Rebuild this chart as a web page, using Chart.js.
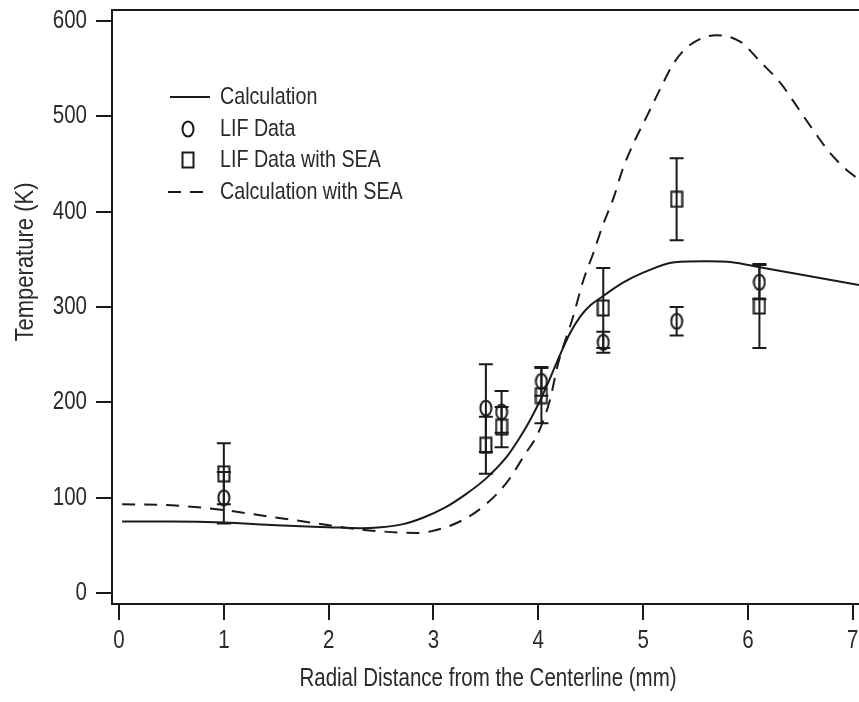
<!DOCTYPE html>
<html>
<head>
<meta charset="utf-8">
<script src="https://cdn.jsdelivr.net/npm/chart.js@4.4.1/dist/chart.umd.min.js"></script>
<style>
html, body { margin: 0; padding: 0; background: #fff; }
</style>
</head>
<body>
<canvas id="chart" width="859" height="702"></canvas>
<script>
// --- data ---
const calcX = [0.03, 0.5, 1.0, 1.5, 2.0, 2.3, 2.5, 2.7, 2.9, 3.1, 3.3, 3.5, 3.7, 3.8, 3.9, 4.0, 4.1, 4.2, 4.3, 4.4, 4.5, 4.6, 4.8, 5.0, 5.3, 5.6, 5.85, 6.1, 6.5, 7.06];
const calcT = [75, 75, 74, 71, 69, 68, 69, 72, 79, 89, 103, 120, 143, 159, 177, 198, 222, 248, 272, 290, 302, 310, 325, 336, 347, 348, 347, 342, 334, 323];

const seaX = [0.03, 0.5, 1.0, 1.44, 1.89, 2.2, 2.46, 2.84, 3.09, 3.32, 3.51, 3.7, 3.87, 4.0, 4.11, 4.19, 4.33, 4.43, 4.53, 4.61, 4.72, 4.81, 4.91, 5.04, 5.16, 5.3, 5.45, 5.7, 5.93, 6.12, 6.31, 6.47, 6.62, 6.78, 6.96, 7.06];
const seaT = [93, 92, 87, 80, 73, 68, 65, 63, 68, 79, 94, 116, 145, 168, 202, 241, 289, 328, 358, 384, 415, 446, 472, 501, 528, 557, 575, 585, 578, 557, 535, 510, 486, 462, 442, 434];

const pointX = [1.0, 3.5, 3.65, 4.03, 4.62, 5.32, 6.11];
const lifT = [100, 194, 190, 222, 263, 285, 326];
const lifErr = [27, 46, 22, 15, 11, 15, 18];
const lifSeaT = [125, 155, 174, 207, 299, 413, 301];
const lifSeaErr = [32, 30, 21, 29, 42, 43, 44];

const xTicks = [0, 1, 2, 3, 4, 5, 6, 7];
const yTicks = [0, 100, 200, 300, 400, 500, 600];

const legendLabels = ['Calculation', 'LIF Data', 'LIF Data with SEA', 'Calculation with SEA'];
const xTitle = 'Radial Distance from the Centerline (mm)';
const yTitle = 'Temperature (K)';

// no narrow face installed, so squeeze the regular one to look like Arial Narrow
const FONT = '"Liberation Sans", Arial, sans-serif';
const SQUEEZE = 0.82;
const INK = '#1a1a1a';
const TEXT = '#2a2a2a';

function pts(xs, ys) {
    return xs.map((x, i) => ({ x: x, y: ys[i] }));
}

function narrowText(ctx, str, x, y, size, align, squeeze) {
    ctx.save();
    ctx.font = size + 'px ' + FONT;
    ctx.textAlign = align;
    ctx.textBaseline = 'middle';
    ctx.translate(x, y);
    ctx.scale(squeeze || SQUEEZE, 1);
    ctx.fillText(str, 0, 0);
    ctx.restore();
}

// hollow markers, a bit taller than wide like the original
function makeMarker(kind) {
    const c = document.createElement('canvas');
    c.width = 14; c.height = 18;
    const g = c.getContext('2d');
    g.strokeStyle = INK;
    g.lineWidth = 2;
    if (kind === 'ellipse') {
        g.beginPath();
        g.ellipse(7, 9, 5.5, 7.5, 0, 0, Math.PI * 2);
        g.stroke();
    } else {
        g.strokeRect(1.5, 1.5, 11, 15);
    }
    return c;
}
const circleMark = makeMarker('ellipse');
const squareMark = makeMarker('rect');

const errorBars = {
    id: 'errorBars',
    beforeDatasetsDraw(chart) {
        const { ctx, scales: { x, y } } = chart;
        ctx.save();
        ctx.strokeStyle = INK;
        ctx.lineWidth = 2;
        const sets = [[lifT, lifErr], [lifSeaT, lifSeaErr]];
        sets.forEach(([vals, errs]) => {
            vals.forEach((v, i) => {
                const px = x.getPixelForValue(pointX[i]);
                const top = y.getPixelForValue(v + errs[i]);
                const bot = y.getPixelForValue(v - errs[i]);
                ctx.beginPath();
                ctx.moveTo(px, top); ctx.lineTo(px, bot);
                ctx.moveTo(px - 7, top); ctx.lineTo(px + 7, top);
                ctx.moveTo(px - 7, bot); ctx.lineTo(px + 7, bot);
                ctx.stroke();
            });
        });
        ctx.restore();
    }
};

const textAndFrame = {
    id: 'textAndFrame',
    afterDraw(chart) {
        const { ctx, chartArea, scales: { x, y } } = chart;
        ctx.save();
        // top frame line
        ctx.strokeStyle = INK;
        ctx.lineWidth = 2;
        ctx.beginPath();
        ctx.moveTo(chartArea.left - 1, chartArea.top);
        ctx.lineTo(chartArea.right, chartArea.top);
        ctx.stroke();

        ctx.fillStyle = TEXT;
        // tick labels
        yTicks.forEach(v => narrowText(ctx, String(v), 87, y.getPixelForValue(v), 25, 'right'));
        xTicks.forEach(v => narrowText(ctx, String(v), x.getPixelForValue(v), 641, 25, 'center'));

        // axis titles
        narrowText(ctx, xTitle, 488, 679, 25, 'center');
        ctx.save();
        ctx.translate(26, 262);
        ctx.rotate(-Math.PI / 2);
        narrowText(ctx, yTitle, 0, 0, 25, 'center', 0.88);
        ctx.restore();

        // legend
        const rows = [97, 129, 160, 192];
        rows.forEach((ry, i) => narrowText(ctx, legendLabels[i], 220, ry, 24, 'left'));
        ctx.lineWidth = 2;
        ctx.beginPath();
        ctx.moveTo(170, rows[0]); ctx.lineTo(210, rows[0]);
        ctx.stroke();
        ctx.setLineDash([13, 9]);
        ctx.beginPath();
        ctx.moveTo(168, rows[3]); ctx.lineTo(212, rows[3]);
        ctx.stroke();
        ctx.setLineDash([]);
        ctx.drawImage(circleMark, 181, rows[1] - 9);
        ctx.drawImage(squareMark, 181, rows[2] - 9);
        ctx.restore();
    }
};

new Chart(document.getElementById('chart'), {
    type: 'scatter',
    data: {
        datasets: [{
            label: legendLabels[0],
            data: pts(calcX, calcT),
            showLine: true,
            borderColor: INK,
            borderWidth: 2,
            pointRadius: 0,
            cubicInterpolationMode: 'monotone'
        }, {
            label: legendLabels[3],
            data: pts(seaX, seaT),
            showLine: true,
            borderColor: INK,
            borderWidth: 2,
            borderDash: [13, 9],
            pointRadius: 0,
            cubicInterpolationMode: 'monotone'
        }, {
            label: legendLabels[1],
            data: pts(pointX, lifT),
            pointStyle: circleMark,
            pointRadius: 7
        }, {
            label: legendLabels[2],
            data: pts(pointX, lifSeaT),
            pointStyle: squareMark,
            pointRadius: 7
        }]
    },
    options: {
        responsive: false,
        animation: false,
        devicePixelRatio: 1,
        layout: { autoPadding: false, padding: { top: 10, right: 0, left: 0, bottom: 0 } },
        plugins: { legend: { display: false }, tooltip: { enabled: false } },
        scales: {
            x: {
                type: 'linear',
                min: -0.067,
                max: 7.06,
                afterBuildTicks: (s) => { s.ticks = xTicks.map(v => ({ value: v })); },
                afterFit: (s) => { s.height = 98; s.paddingLeft = 0; s.paddingRight = 0; },
                border: { color: INK, width: 2 },
                grid: { drawOnChartArea: false, tickLength: 16, color: INK, lineWidth: 2 },
                ticks: { display: false }
            },
            y: {
                min: -11.5,
                max: 611.5,
                afterBuildTicks: (s) => { s.ticks = yTicks.map(v => ({ value: v })); },
                afterFit: (s) => { s.width = 112; s.paddingTop = 0; s.paddingBottom = 0; },
                border: { color: INK, width: 2 },
                grid: { drawOnChartArea: false, tickLength: 16, color: INK, lineWidth: 2 },
                ticks: { display: false }
            }
        }
    },
    plugins: [errorBars, textAndFrame]
});
</script>
</body>
</html>
